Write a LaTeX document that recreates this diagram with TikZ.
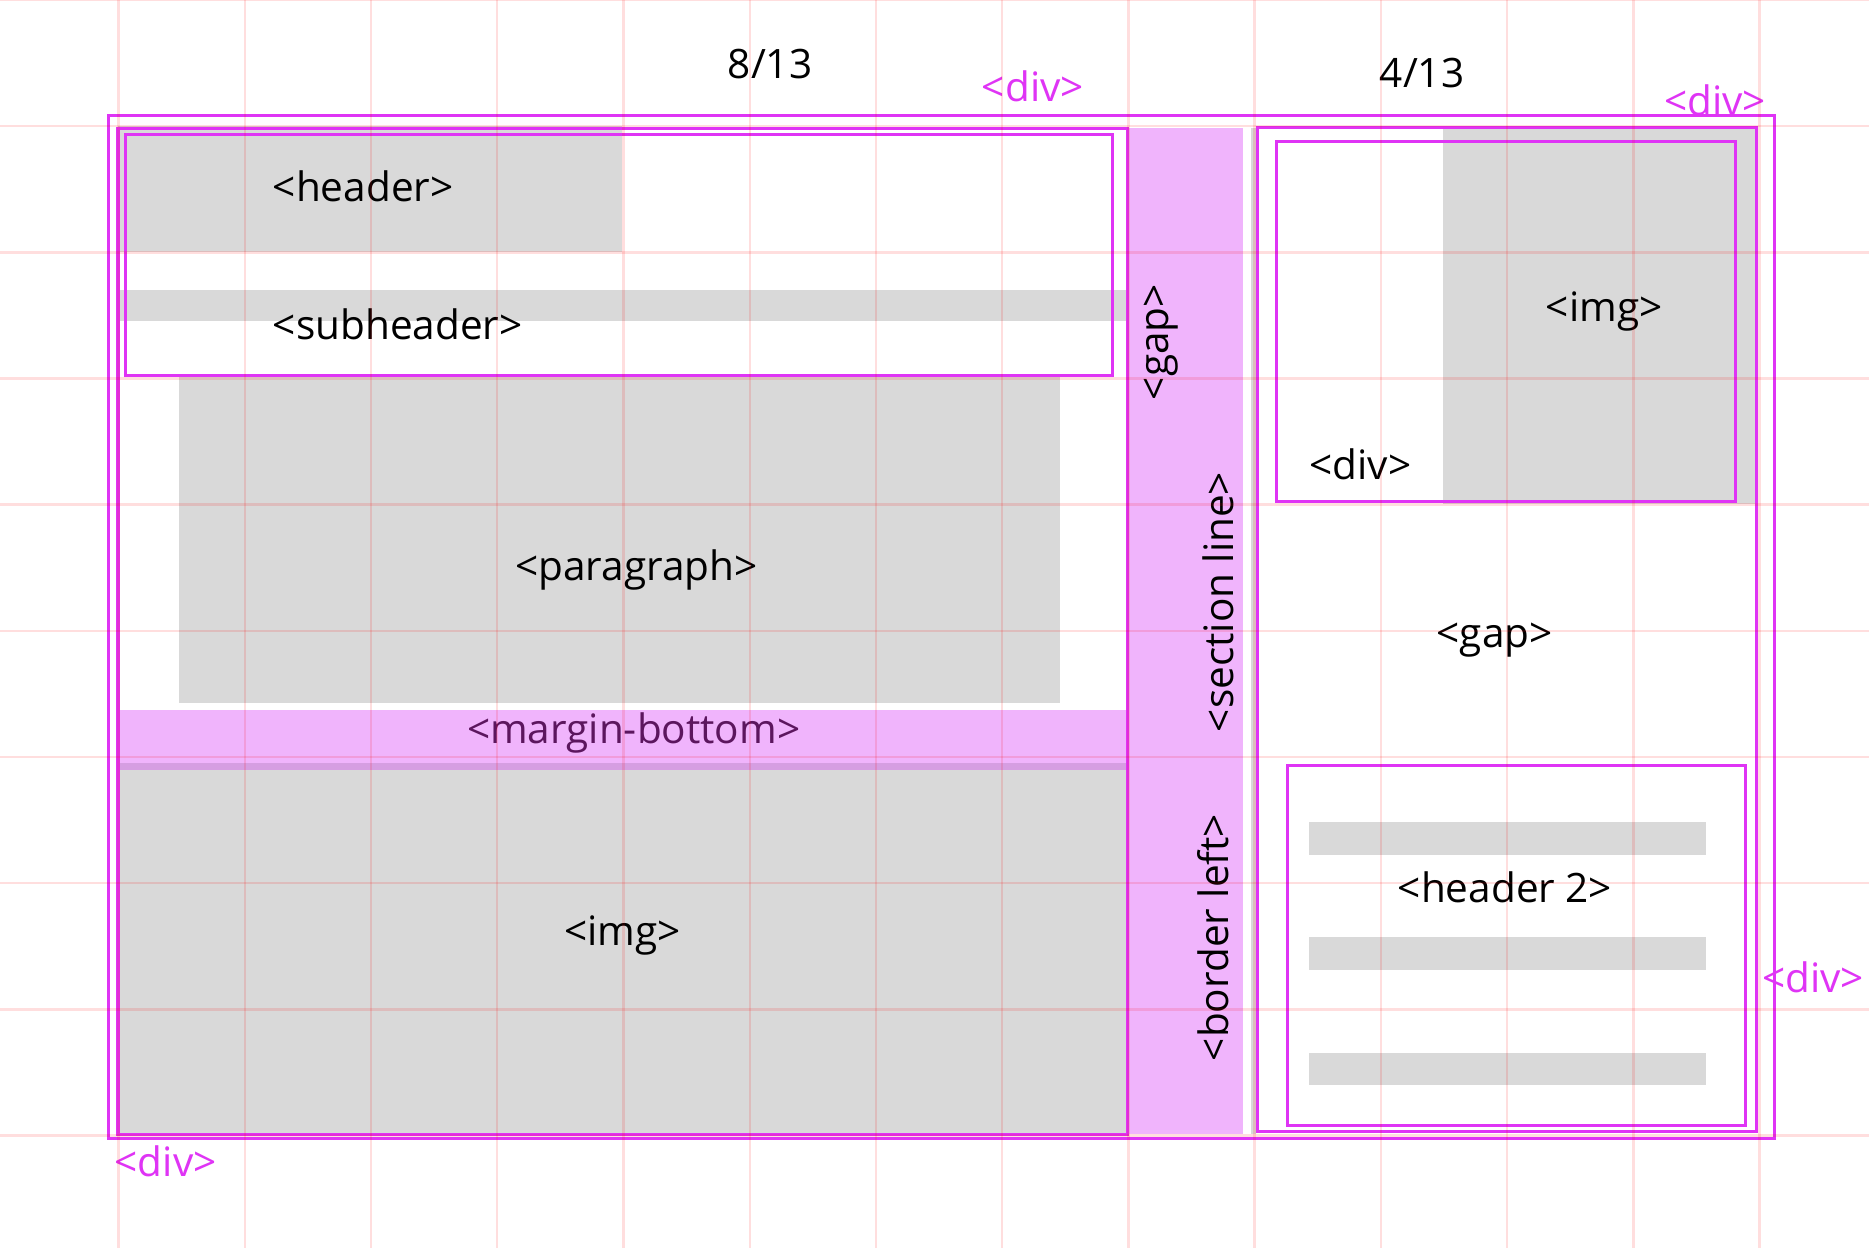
\documentclass[tikz,border=0pt]{standalone}
\usepackage{fontspec}
\setmainfont{Open Sans}
\definecolor{mag}{RGB}{223,52,245}
\definecolor{lmag}{RGB}{240,180,252}
\definecolor{dmag}{RGB}{214,158,226}
\definecolor{grayc}{RGB}{217,217,217}
\definecolor{mtext}{RGB}{92,22,94}
\begin{document}
\begin{tikzpicture}[x=1pt,y=-1pt,
  box/.style={draw=mag,line width=2.6pt},
  grayfill/.style={fill=grayc},
  band/.style={fill=lmag},
  lbl/.style={font=\fontsize{34}{40}\selectfont,inner sep=0pt,anchor=base,text=black},
  tag/.style={lbl,text=mag},
  vlbl/.style={lbl,rotate=90},
  gridline/.style={draw=red,opacity=0.13,line width=2pt}]
\useasboundingbox (0,0) rectangle (1568,1047);
\fill[white] (0,0) rectangle (1568,1047);

% gray blocks
\fill[grayfill] (99,105.5) rectangle (522,211);
\fill[grayfill] (101,243) rectangle (945,269);
\fill[grayfill] (150,316) rectangle (889,590);
\fill[grayfill] (101,646) rectangle (945,951);
\fill[grayfill] (1211,106.5) rectangle (1472,422.5);
\fill[grayfill] (1049.5,107) rectangle (1054,951);
\fill[grayfill] (1098,690) rectangle (1431,717);
\fill[grayfill] (1098,786) rectangle (1431,814);
\fill[grayfill] (1098,883) rectangle (1431,910);

% magenta bands
\fill[band] (101,596) rectangle (945,640);
\fill[dmag] (101,640) rectangle (945,646);
\fill[band] (947,107.5) rectangle (1042.5,951);

% labels
\node[lbl] (n813) at (646,65.7) {8/13};
\node[lbl] (n413) at (1193,73.4) {4/13};
\node[tag] (divTop) at (866.5,85.3) {<div>};
\node[tag] (divTR) at (1439,97) {<div>};
\node[tag] (divBL) at (139,987) {<div>};
\node[tag] (divR) at (1521,833) {<div>};
\node[lbl] (header) at (304.7,169.2) {<header>};
\node[lbl] (subheader) at (333.7,284.4) {<subheader>};
\node[lbl] (paragraph) at (534,486.6) {<paragraph>};
\node[lbl,text=mtext] (margin) at (531.6,623.6) {<margin-bottom>};
\node[lbl] (imgL) at (522.3,793.3) {<img>};
\node[lbl] (imgR) at (1345.8,269.6) {<img>};
\node[lbl] (divIn) at (1141.3,402.4) {<div>};
\node[lbl] (gapR) at (1254,543.3) {<gap>};
\node[lbl] (header2) at (1262.6,757) {<header 2>};
\node[vlbl] (gapV) at (980,287) {<gap>};
\node[vlbl] (section) at (1034.5,505) {<section line>};
\node[vlbl] (borderL) at (1030.7,786.5) {<border left>};

% borders
\draw[box] (91,97) rectangle (1488.5,955);
\draw[box] (99,108) rectangle (946,952);
\draw[box] (105,113) rectangle (933,315);
\draw[box] (1055,107) rectangle (1473.5,949);
\draw[box] (1071,119) rectangle (1456,421);
\draw[box] (1080,642.5) rectangle (1464.5,944.5);

% grid overlay
\foreach \k in {0,...,13}
  \draw[gridline] ({99.5+105.9*\k},0) -- ({99.5+105.9*\k},1047);
\foreach \k in {0,...,9}
  \draw[gridline] (0,{105.85*\k}) -- (1568,{105.85*\k});
\end{tikzpicture}
\end{document}
